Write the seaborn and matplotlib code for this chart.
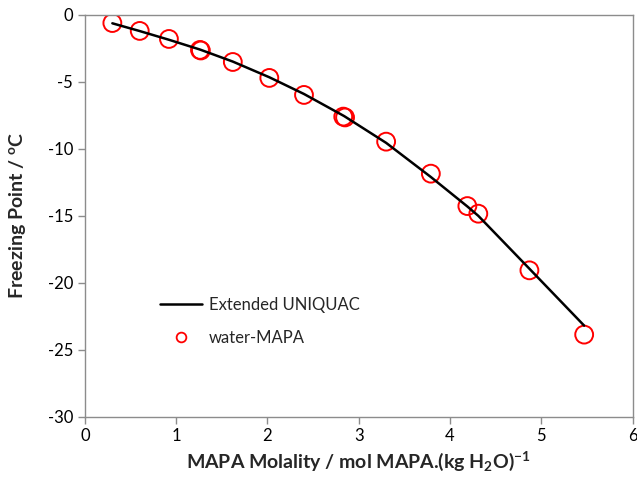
import pandas as pd
import matplotlib
matplotlib.use("Agg")
import matplotlib.pyplot as plt
from matplotlib.lines import Line2D
import seaborn as sns

molality = [0.30, 0.60, 0.92, 1.26, 1.27, 1.62, 2.02, 2.40, 2.83, 2.85, 3.30, 3.79, 4.19, 4.31, 4.87, 5.47]
freezing = [-0.60, -1.19, -1.79, -2.61, -2.65, -3.51, -4.70, -5.97, -7.59, -7.65, -9.46, -11.85, -14.27, -14.84, -19.07, -23.87]

# Extended UNIQUAC model curve
model_x = [0.30, 0.60, 0.92, 1.26, 1.62, 2.02, 2.40, 2.84, 3.30, 3.79, 4.19, 4.31, 4.87, 5.47]
model_y = [-0.62, -1.20, -1.85, -2.58, -3.48, -4.65, -5.90, -7.55, -9.55, -12.10, -14.30, -15.00, -18.95, -23.20]

sns.set_style("white")
plt.rcParams["font.family"] = ["Lato", "DejaVu Sans"]
plt.rcParams["axes.unicode_minus"] = False
plt.rcParams["mathtext.fontset"] = "custom"
plt.rcParams["mathtext.rm"] = "Lato"
plt.rcParams["mathtext.bf"] = "Lato:bold"
plt.rcParams["mathtext.default"] = "bf"

exp_df = pd.DataFrame({"m": molality, "T": freezing})
model_df = pd.DataFrame({"m": model_x, "T": model_y})

fig = plt.figure(figsize=(6.37, 4.82), dpi=100)
ax = fig.add_axes([0.1334, 0.1355, 0.8596, 0.8334])

sns.lineplot(data=model_df, x="m", y="T", ax=ax, color="black", linewidth=1.8,
             sort=False, legend=False)
sns.scatterplot(data=exp_df, x="m", y="T", ax=ax, marker="o", s=165,
                facecolor="none", edgecolor="red", linewidth=1.4, legend=False)

ax.set_xlim(0, 6)
ax.set_ylim(-30, 0)
ax.set_xticks(range(0, 7))
ax.set_yticks(range(-30, 1, 5))

for s in ax.spines.values():
    s.set_color("#8c8c8c")
    s.set_linewidth(1.0)
ax.tick_params(axis="both", direction="out", length=5, width=1, color="#8c8c8c",
               labelsize=12, labelcolor="black", bottom=True, left=True)

ax.set_xlabel("MAPA Molality / mol MAPA.(kg H$_2$O)$^{-1}$", fontsize=14, fontweight="bold")
ax.set_ylabel("Freezing Point / $^{o}$C", fontsize=14, fontweight="bold", labelpad=14)

handles = [
    Line2D([], [], color="black", linewidth=1.8),
    Line2D([], [], linestyle="none", marker="o", markersize=7,
           markerfacecolor="none", markeredgecolor="red", markeredgewidth=1.3),
]
ax.legend(handles, ["Extended UNIQUAC", "water-MAPA"], loc="upper left",
          bbox_to_anchor=(0.11, 0.335), frameon=False,
          fontsize=12, handlelength=2.5, handletextpad=0.4, labelspacing=1.0)

fig.savefig("out.png", dpi=100)
